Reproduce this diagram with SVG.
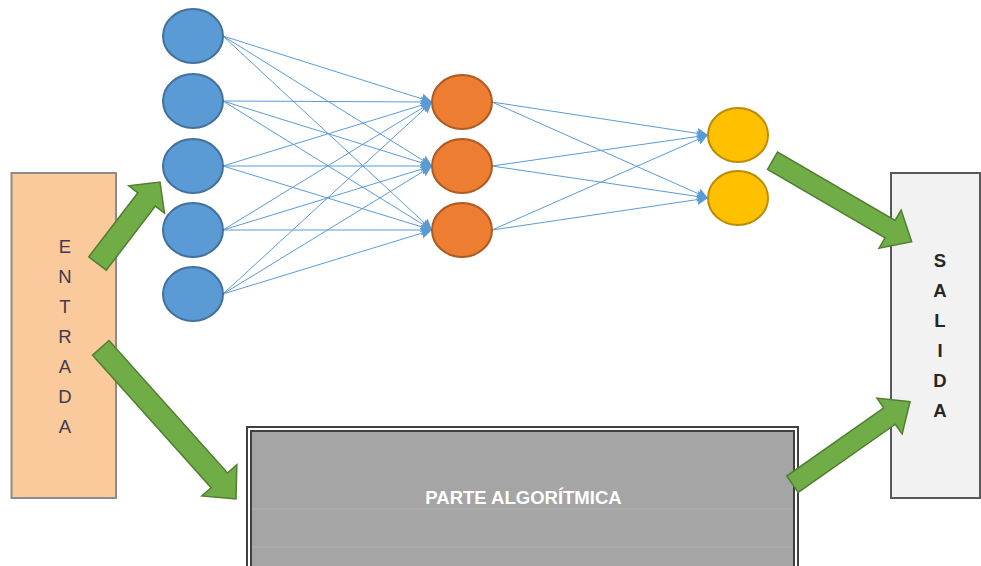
<svg xmlns="http://www.w3.org/2000/svg" width="981" height="566" viewBox="0 0 981 566">
<style>
.in{fill:#5B9BD5;stroke:#41719C;stroke-width:2}
.hid{fill:#ED7D31;stroke:#AE5A21;stroke-width:2}
.out{fill:#FFC000;stroke:#BC8C00;stroke-width:2}
.con line{stroke:#5B9BD5;stroke-width:1;marker-end:url(#ah)}
.big{fill:#70AD47;stroke:#507E32;stroke-width:1.5;stroke-linejoin:miter}
.lt{font-family:"Liberation Sans",Arial,sans-serif;font-size:18.5px;text-anchor:middle}
</style>
<defs>
<marker id="ah" markerUnits="userSpaceOnUse" markerWidth="12" markerHeight="12" refX="11" refY="5.5" orient="auto">
<path d="M0,0 L11,5.5 L0,11 L1.5,5.5 z" fill="#5B9BD5"/>
</marker>
</defs>
<rect width="981" height="566" fill="#fff"/>

<g id="entrada">
<rect x="11.5" y="173" width="104.5" height="325" fill="#FAC99C" stroke="#8c8c8c" stroke-width="2"/>
<text class="lt" fill="#433a52"><tspan x="65" y="253">E</tspan><tspan x="65" y="283">N</tspan><tspan x="65" y="313">T</tspan><tspan x="65" y="343">R</tspan><tspan x="65" y="373">A</tspan><tspan x="65" y="403">D</tspan><tspan x="65" y="433">A</tspan></text>
</g>

<g id="salida">
<rect x="891" y="173" width="89" height="325" fill="#F2F2F2" stroke="#595959" stroke-width="2"/>
<text class="lt" fill="#262626" font-weight="bold"><tspan x="940" y="266.5">S</tspan><tspan x="940" y="296.5">A</tspan><tspan x="940" y="326.5">L</tspan><tspan x="940" y="356.5">I</tspan><tspan x="940" y="386.5">D</tspan><tspan x="940" y="416.5">A</tspan></text>
</g>

<g id="parte-algoritmica">
<rect x="247" y="427" width="551" height="160" fill="#ffffff" stroke="#404040" stroke-width="2"/>
<rect x="251" y="431" width="543" height="160" fill="#A5A5A5" stroke="#404040" stroke-width="2"/>
<line x1="252" y1="509" x2="793" y2="509" stroke="#afafaf" stroke-width="1"/>
<line x1="252" y1="547" x2="793" y2="547" stroke="#afafaf" stroke-width="1"/>
<text x="523.5" y="504" class="lt" fill="#ffffff" font-weight="bold" font-size="18.5">PARTE ALGORÍTMICA</text>
</g>

<g id="connectors" class="con">
<line x1="223" y1="36" x2="432" y2="102"/><line x1="223" y1="36" x2="432" y2="166"/><line x1="223" y1="36" x2="432" y2="230"/>
<line x1="223" y1="101" x2="432" y2="102"/><line x1="223" y1="101" x2="432" y2="166"/><line x1="223" y1="101" x2="432" y2="230"/>
<line x1="223" y1="166" x2="432" y2="102"/><line x1="223" y1="166" x2="432" y2="166"/><line x1="223" y1="166" x2="432" y2="230"/>
<line x1="223" y1="230" x2="432" y2="102"/><line x1="223" y1="230" x2="432" y2="166"/><line x1="223" y1="230" x2="432" y2="230"/>
<line x1="223" y1="294" x2="432" y2="102"/><line x1="223" y1="294" x2="432" y2="166"/><line x1="223" y1="294" x2="432" y2="230"/>
<line x1="492" y1="102" x2="708" y2="135"/><line x1="492" y1="102" x2="708" y2="198"/>
<line x1="492" y1="166" x2="708" y2="135"/><line x1="492" y1="166" x2="708" y2="198"/>
<line x1="492" y1="230" x2="708" y2="135"/><line x1="492" y1="230" x2="708" y2="198"/>
</g>

<g id="input-layer">
<ellipse id="in1" class="in" cx="193" cy="36" rx="30" ry="27"/>
<ellipse id="in2" class="in" cx="193" cy="101" rx="30" ry="27"/>
<ellipse id="in3" class="in" cx="193" cy="166" rx="30" ry="27"/>
<ellipse id="in4" class="in" cx="193" cy="230" rx="30" ry="27"/>
<ellipse id="in5" class="in" cx="193" cy="294" rx="30" ry="27"/>
</g>
<g id="hidden-layer">
<ellipse id="h1" class="hid" cx="462" cy="102" rx="30" ry="27"/>
<ellipse id="h2" class="hid" cx="462" cy="166" rx="30" ry="27"/>
<ellipse id="h3" class="hid" cx="462" cy="230" rx="30" ry="27"/>
</g>
<g id="output-layer">
<ellipse id="o1" class="out" cx="738" cy="135" rx="30" ry="27"/>
<ellipse id="o2" class="out" cx="738" cy="198" rx="30" ry="27"/>
</g>

<g id="block-arrows">
<polygon class="big" points="106.23,270.19 155.35,206.16 164.49,213.15 160,182 128.75,185.79 137.89,192.78 88.77,256.81"/>
<polygon class="big" points="92.59,355.14 211.11,487.69 201.79,496.02 236,499 236.85,464.68 227.53,473.01 109.01,340.46"/>
<polygon class="big" points="767.47,169.45 885.05,237.79 879.02,248.16 911.7,241.7 901.14,210.12 895.11,220.49 777.53,152.15"/>
<polygon class="big" points="798.25,492.38 895.29,424.25 902.18,434.07 910,401.7 876.9,398.07 883.79,407.89 786.75,476.02"/>
</g>
</svg>
